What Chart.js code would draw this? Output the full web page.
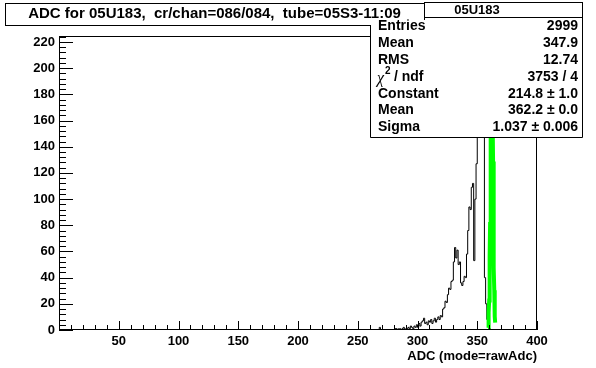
<!DOCTYPE html>
<html><head><meta charset="utf-8">
<script src="https://cdn.jsdelivr.net/npm/chart.js@4"></script>
<style>html,body{margin:0;padding:0;background:#fff;} canvas{display:block;}</style>
</head><body>
<canvas id="c" width="596" height="368"></canvas>
<script>
// ---- data ----
const titleText = 'ADC for 05U183,  cr/chan=086/084,  tube=05S3-11:09';
const xAxisTitle = 'ADC (mode=rawAdc)';
const xRange = [0, 400];
const yRange = [0, 224.6];
const xTickStep = 50, xMinorStep = 10;
const yTickStep = 20, yMinorStep = 4;
// histogram: unit-width bins, listed from binStart; all other bins are empty
const binStart = 265;
const binCounts = [
  0,0,0,0,2,0,0,0,0,0,
  0,0,0,0,0,0,0,1,1,0,
  1,1,0,1,2,0,1,1,2,1,
  3,2,1,3,2,
  4,2,5,3,6,7,9,5,6,4,
  7,6,8,5,7,9,6,8,10,8,
  11,10,16,17,22,21,27,32,31,37,
  38,52,63,55,61,50,52,36,34,37,
  41,40,58,76,94,92,109,112,53,100,
  127,160,190,205,214,200,180,40,20,8,
  3,1,0,0,0,0
];
// gaussian fit curve (as drawn, green)
const fitX = [359.0,359.25,359.5,359.75,360.0,360.25,360.5,360.75,361.0,361.25,361.5,361.75,362.0,362.2,362.5,362.75,363.0,363.25,363.5,363.75,364.0,364.25,364.5,364.75,365.0];
const fitY = [1.8,3.8,7.2,13.2,22.6,36.7,56.0,80.9,109.9,141.2,171.0,195.5,210.8,214.8,206.0,186.6,159.5,128.7,97.9,70.3,47.6,30.4,18.4,10.4,5.6];
// statistics box
const statHeader = '05U183';
const statLabels = ['Entries','Mean','RMS','CHI2','Constant','Mean','Sigma'];
const statValues = ['2999','347.9','12.74','3753 / 4','214.8 \u00b1 1.0','362.2 \u00b1 0.0','1.037 \u00b1 0.006'];

// ---- build datasets ----
const histPoints = [];
for (let b = xRange[0]; b < xRange[1]; b++) {
  const i = b - binStart;
  const v = (i >= 0 && i < binCounts.length) ? binCounts[i] : 0;
  histPoints.push({x: b, y: v});
}
histPoints.push({x: xRange[1], y: 0});
const fitPoints = fitX.map((x, i) => ({x: x, y: fitY[i]}));

const FONT = '"Liberation Sans", Arial, Helvetica, sans-serif';

const rootPlugin = {
  id: 'rootDecor',
  afterDraw(chart) {
    const ctx = chart.ctx;
    const a = chart.chartArea;
    const xs = chart.scales.x, ys = chart.scales.y;
    ctx.save();
    ctx.strokeStyle = '#000';
    ctx.lineWidth = 1;
    // frame
    ctx.strokeRect(Math.round(a.left) + 0.5, Math.round(a.top) + 0.5,
                   Math.round(a.right - a.left) - 1, Math.round(a.bottom - a.top) - 1);
    ctx.beginPath();
    for (let v = yRange[0]; v <= yRange[1] + 1e-6; v += yMinorStep) {
      const y = Math.round(ys.getPixelForValue(v)) + 0.5;
      const len = (Math.abs(v % yTickStep) < 1e-6) ? 14 : 7;
      ctx.moveTo(a.left, y); ctx.lineTo(a.left + len, y);
    }
    for (let v = xRange[0]; v <= xRange[1] + 1e-6; v += xMinorStep) {
      const x = Math.round(xs.getPixelForValue(v)) + 0.5;
      const len = (Math.abs(v % xTickStep) < 1e-6) ? 9 : 5;
      ctx.moveTo(x, a.bottom); ctx.lineTo(x, a.bottom - len);
    }
    ctx.stroke();

    // title box (drawn first; stat box overlaps its lower-right corner)
    ctx.fillStyle = '#fff';
    ctx.fillRect(5, 3, 419, 22);
    ctx.strokeRect(5.5, 3.5, 419, 22);
    ctx.fillStyle = '#000';
    ctx.textBaseline = 'middle';
    ctx.font = 'bold 15px ' + FONT;
    ctx.textAlign = 'center';
    ctx.fillText(titleText, 214.5, 13.5);

    // statistics box body
    const sx = 370, sw = 212, sBot = 137;
    ctx.fillStyle = '#fff';
    ctx.fillRect(sx, 20, sw + 1, sBot - 20);
    ctx.beginPath();
    ctx.moveTo(sx + 0.5, 25); ctx.lineTo(sx + 0.5, sBot + 0.5);
    ctx.lineTo(sx + sw + 0.5, sBot + 0.5); ctx.lineTo(sx + sw + 0.5, 2);
    ctx.stroke();
    // header strip
    ctx.fillRect(424, 2, sx + sw - 424, 15);
    ctx.strokeRect(424.5, 2.5, sx + sw - 424, 15);
    ctx.fillStyle = '#000';
    ctx.font = 'bold 13px ' + FONT;
    ctx.textAlign = 'center';
    ctx.fillText(statHeader, 477, 10);

    ctx.save();
    ctx.beginPath();
    ctx.rect(sx + 1, 19.5, sw - 1, sBot - 19.5);
    ctx.clip();
    const rowY = [26, 43.5, 60.5, 77.5, 94, 110.5, 127.5];
    for (let i = 0; i < statLabels.length; i++) {
      ctx.textAlign = 'left';
      if (statLabels[i] === 'CHI2') {
        ctx.font = 'italic 16px "Liberation Serif", serif';
        ctx.fillText('\u03c7', 377, rowY[i] + 1);
        const w = ctx.measureText('\u03c7').width;
        ctx.font = 'bold 10px ' + FONT;
        ctx.fillText('2', 377 + w + 1, rowY[i] - 6);
        ctx.font = 'bold 14px ' + FONT;
        ctx.fillText(' / ndf', 377 + w + 6, rowY[i]);
      } else {
        ctx.font = 'bold 14px ' + FONT;
        ctx.fillText(statLabels[i], 378, rowY[i]);
      }
      ctx.font = 'bold 14px ' + FONT;
      ctx.textAlign = 'right';
      ctx.fillText(statValues[i], 578, rowY[i]);
    }
    ctx.restore();
    ctx.restore();
  }
};

new Chart(document.getElementById('c'), {
  type: 'line',
  data: {
    datasets: [
      { data: fitPoints, borderColor: '#00ff00', borderWidth: 4, pointRadius: 0, tension: 0, fill: false },
      { data: histPoints, borderColor: '#000000', borderWidth: 1, pointRadius: 0, stepped: 'after', fill: false }
    ]
  },
  options: {
    responsive: false,
    devicePixelRatio: 1,
    animation: false,
    events: [],
    layout: { padding: { top: 36, right: 59, left: 0, bottom: 0 } },
    plugins: { legend: { display: false }, tooltip: { enabled: false }, title: { display: false } },
    scales: {
      x: {
        type: 'linear', min: xRange[0], max: xRange[1],
        grid: { display: false, drawTicks: false },
        border: { display: false },
        ticks: {
          stepSize: xTickStep, autoSkip: false, maxRotation: 0, includeBounds: false,
          padding: 4, color: '#000', font: { family: FONT, size: 13, weight: 'bold' },
          callback: (v) => v === 0 ? '' : String(v)
        },
        title: { display: true, text: xAxisTitle, align: 'end', color: '#000',
                 font: { family: FONT, size: 13, weight: 'bold' }, padding: { top: 0, bottom: 4 } },
        afterFit: (s) => { s.height = 38; }
      },
      y: {
        type: 'linear', min: yRange[0], max: yRange[1],
        grid: { display: false, drawTicks: false },
        border: { display: false },
        ticks: {
          stepSize: yTickStep, autoSkip: false, includeBounds: false,
          padding: 4, color: '#000', font: { family: FONT, size: 13, weight: 'bold' },
          callback: (v) => String(v)
        },
        afterFit: (s) => { s.width = 59; }
      }
    }
  },
  plugins: [rootPlugin]
});
</script>
</body></html>
